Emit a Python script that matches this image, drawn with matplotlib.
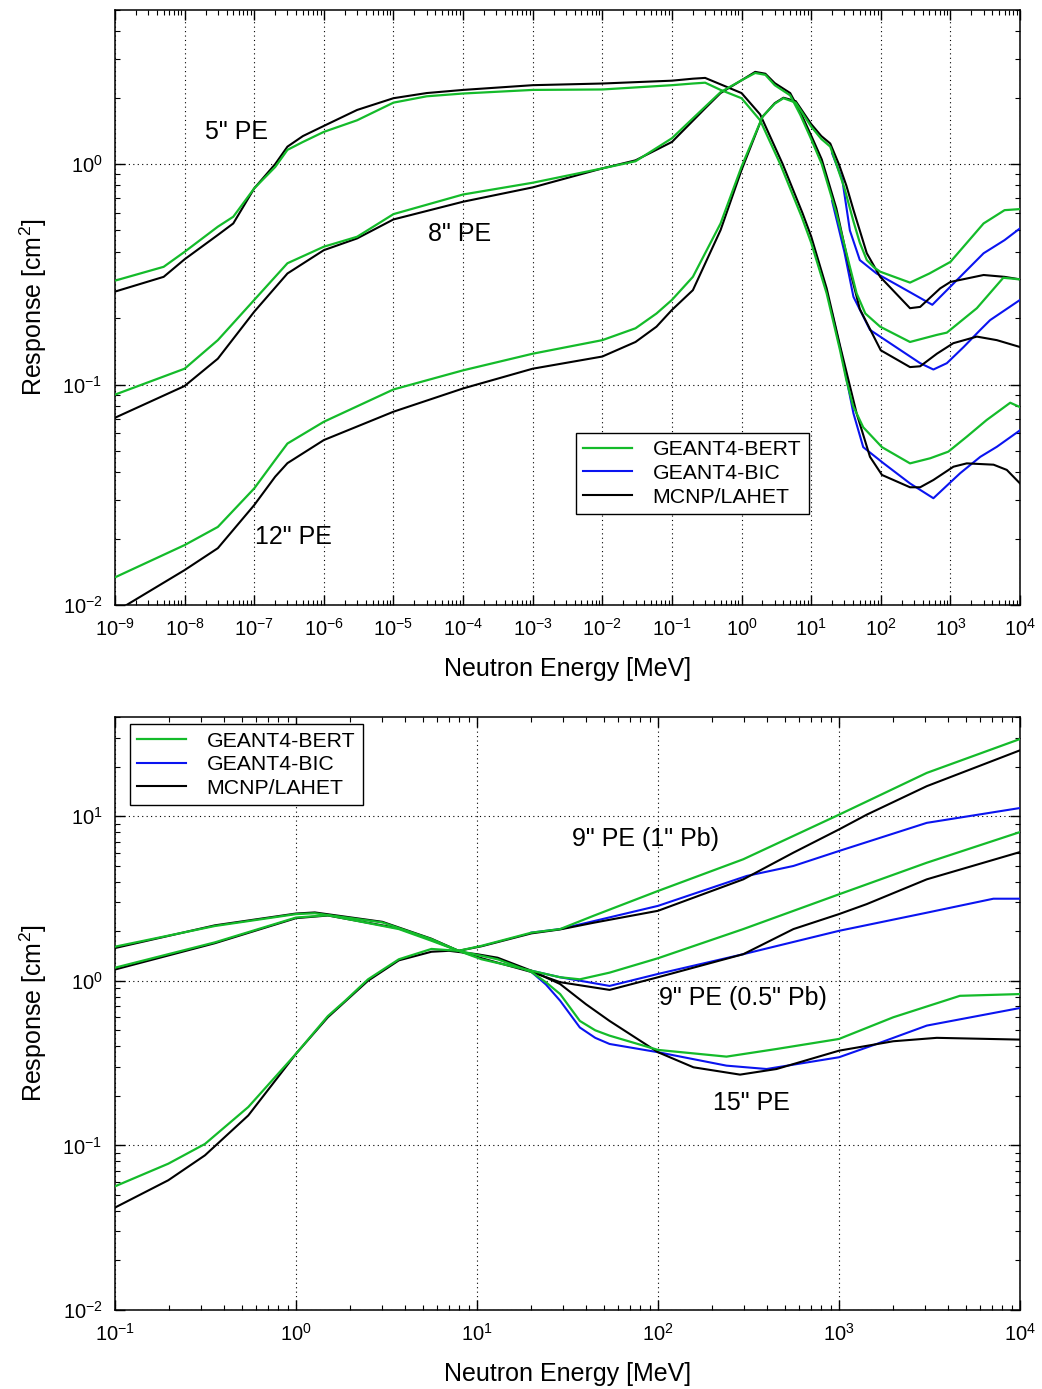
import matplotlib
matplotlib.use("Agg")
import matplotlib.pyplot as plt
from matplotlib.ticker import LogLocator, NullFormatter

plt.rcParams["font.family"] = ["Liberation Sans", "DejaVu Sans"]
plt.rcParams["mathtext.fontset"] = "custom"
plt.rcParams["mathtext.rm"] = "Liberation Sans"
plt.rcParams["mathtext.it"] = "Liberation Sans:italic"
plt.rcParams["mathtext.bf"] = "Liberation Sans:bold"
plt.rcParams["axes.unicode_minus"] = False

GREEN = "#14bb2a"
BLUE = "#0a14f0"
BLACK = "#000000"

# ---------------- top panel: bare PE spheres (energy in MeV) ----------------
# 5" PE
e5_bert = [1e-9, 5e-9, 1e-8, 3e-8, 5e-8, 1e-7, 2e-7, 3e-7, 5e-7, 1e-6, 3e-6, 1e-5, 3e-5, 1e-4, 1e-3,
           1e-2, 0.1, 0.2, 0.3, 0.5, 1.0, 1.85, 3.6, 7.3, 10, 16.7, 26, 32, 40, 56, 104, 263, 513, 933,
           1720, 3310, 7240, 1e4]
r5_bert = [0.296, 0.342, 0.40, 0.52, 0.577, 0.776, 0.97, 1.16, 1.26, 1.40, 1.58, 1.90, 2.03, 2.09, 2.17,
           2.18, 2.28, 2.32, 2.34, 2.17, 1.99, 1.58, 1.0, 0.577, 0.44, 0.259, 0.143, 0.105, 0.08, 0.064,
           0.052, 0.0439, 0.0463, 0.0496, 0.058, 0.069, 0.0827, 0.079]
e5_mcnp = [1e-9, 5e-9, 1e-8, 3e-8, 5e-8, 1e-7, 2e-7, 3e-7, 5e-7, 1e-6, 3e-6, 1e-5, 3e-5, 1e-4, 1e-3,
           1e-2, 0.1, 0.2, 0.3, 0.5, 1.0, 1.85, 3.9, 7.5, 10, 16.7, 26, 45, 70, 104, 263, 368, 570, 1107,
           1720, 4170, 6460, 1e4]
r5_mcnp = [0.264, 0.308, 0.37, 0.477, 0.538, 0.776, 1.0, 1.20, 1.34, 1.49, 1.76, 1.99, 2.10, 2.17, 2.28,
           2.32, 2.39, 2.44, 2.46, 2.30, 2.10, 1.68, 1.0, 0.60, 0.47, 0.273, 0.15, 0.074, 0.047, 0.0389,
           0.0342, 0.0342, 0.0369, 0.0424, 0.0439, 0.0433, 0.041, 0.0356]
e5_bic = [20, 27, 40.5, 56, 110, 263, 570, 1380, 2690, 4650, 1e4]
r5_bic = [0.21, 0.14, 0.074, 0.052, 0.0439, 0.0356, 0.0305, 0.0396, 0.047, 0.0522, 0.062]

# 8" PE
e8_bert = [1e-9, 1e-8, 3e-8, 1e-7, 3e-7, 1e-6, 3e-6, 1e-5, 1e-4, 1e-3, 1e-2, 3e-2, 0.1, 0.3, 0.5, 1.0,
           1.57, 2.2, 3.0, 5.0, 7.0, 10.2, 14.2, 23, 36, 45, 60, 98, 263, 640, 890, 2400, 5750, 1e4]
r8_bert = [0.090, 0.118, 0.159, 0.242, 0.355, 0.422, 0.468, 0.593, 0.728, 0.823, 0.956, 1.03, 1.31, 1.82,
           2.12, 2.40, 2.59, 2.54, 2.28, 2.05, 1.67, 1.28, 1.0, 0.60, 0.342, 0.259, 0.21, 0.183, 0.156,
           0.168, 0.172, 0.222, 0.305, 0.300]
e8_mcnp = [1e-9, 1e-8, 3e-8, 1e-7, 3e-7, 1e-6, 3e-6, 1e-5, 1e-4, 1e-3, 1e-2, 3e-2, 0.1, 0.3, 0.5, 1.0,
           1.57, 2.2, 3.0, 5.0, 7.0, 10.2, 14.2, 23, 36, 50, 100, 263, 368, 640, 1100, 2400, 4650, 1e4]
r8_mcnp = [0.0707, 0.0985, 0.131, 0.214, 0.319, 0.407, 0.46, 0.561, 0.675, 0.784, 0.956, 1.04, 1.26,
           1.79, 2.10, 2.40, 2.62, 2.57, 2.33, 2.10, 1.72, 1.33, 1.05, 0.63, 0.33, 0.22, 0.143, 0.12,
           0.121, 0.138, 0.154, 0.165, 0.159, 0.148]
e8_bic = [20, 30, 40.5, 70, 136, 368, 570, 890, 1550, 2690, 3720, 1e4]
r8_bic = [0.68, 0.40, 0.25, 0.177, 0.154, 0.125, 0.117, 0.125, 0.148, 0.177, 0.196, 0.242]

# 12" PE
e12_bert = [1e-9, 1e-8, 3e-8, 1e-7, 2e-7, 3e-7, 1e-6, 1e-5, 1e-4, 1e-3, 1e-2, 3e-2, 6e-2, 0.1, 0.2,
            0.5, 1.0, 2.0, 3.0, 4.0, 6.0, 10, 14, 18.8, 23, 30, 40.5, 50, 63, 80, 98, 263, 500, 1000,
            3000, 6000, 1e4]
r12_bert = [0.01335, 0.0187, 0.0226, 0.0338, 0.0455, 0.054, 0.0678, 0.095, 0.116, 0.138, 0.159, 0.18,
            0.21, 0.242, 0.308, 0.538, 0.973, 1.64, 1.88, 1.99, 1.90, 1.48, 1.30, 1.20, 1.0, 0.78, 0.55,
            0.44, 0.367, 0.34, 0.325, 0.29, 0.319, 0.36, 0.538, 0.618, 0.625]
e12_mcnp = [1e-9, 1e-8, 3e-8, 1e-7, 2e-7, 3e-7, 1e-6, 1e-5, 1e-4, 1e-3, 1e-2, 3e-2, 6e-2, 0.1, 0.2,
            0.5, 1.0, 2.0, 3.0, 4.0, 6.0, 10, 14, 18.8, 25, 32, 40.5, 63, 98, 263, 368, 713, 1000, 3000,
            6000, 1e4]
r12_mcnp = [0.0093, 0.0144, 0.0181, 0.0284, 0.0382, 0.044, 0.056, 0.0753, 0.096, 0.118, 0.134, 0.156,
            0.183, 0.218, 0.268, 0.502, 0.94, 1.64, 1.89, 2.00, 1.93, 1.52, 1.34, 1.24, 1.0, 0.80, 0.62,
            0.394, 0.308, 0.222, 0.225, 0.273, 0.292, 0.314, 0.308, 0.30]
e12_bic = [20, 28, 36, 50, 87, 190, 550, 1000, 3000, 6000, 1e4]
r12_bic = [1.12, 0.85, 0.50, 0.367, 0.319, 0.278, 0.23, 0.278, 0.394, 0.452, 0.511]

# ---------------- bottom panel: lead-loaded spheres ----------------
# 9" PE (1" Pb)
epb1_bert = [0.1, 0.356, 1.0, 1.27, 3.0, 5.6, 7.9, 10.6, 20, 28.8, 44, 100, 296, 1000, 3054, 1e4]
rpb1_bert = [1.61, 2.15, 2.54, 2.57, 2.26, 1.79, 1.52, 1.63, 1.96, 2.06, 2.48, 3.51, 5.47, 10.2, 18.3, 29.4]
epb1_mcnp = [0.1, 0.356, 1.0, 1.27, 3.0, 5.6, 7.9, 10.6, 20, 28.8, 44, 100, 296, 560, 1000, 1422, 3054, 1e4]
rpb1_mcnp = [1.58, 2.17, 2.56, 2.60, 2.28, 1.80, 1.52, 1.62, 1.94, 2.05, 2.25, 2.66, 4.13, 6.0, 8.3, 10.2,
             15.2, 25.1]
epb1_bic = [20, 28.8, 44, 100, 309, 560, 1000, 3054, 1e4]
rpb1_bic = [1.96, 2.06, 2.3, 2.85, 4.33, 4.98, 6.14, 9.1, 11.2]

# 9" PE (0.5" Pb)
epb05_bert = [0.1, 0.356, 1.0, 1.5, 3.7, 5.6, 7.9, 10.6, 20, 28.8, 37, 54, 100, 296, 1000, 3054, 1e4]
rpb05_bert = [1.20, 1.71, 2.42, 2.50, 2.06, 1.75, 1.52, 1.35, 1.15, 1.05, 1.02, 1.12, 1.37, 2.06, 3.35,
              5.21, 8.0]
epb05_mcnp = [0.1, 0.356, 1.0, 1.5, 3.7, 5.6, 7.9, 10.6, 20, 28.8, 54, 100, 296, 560, 1000, 1422, 3054, 1e4]
rpb05_mcnp = [1.17, 1.69, 2.40, 2.49, 2.08, 1.77, 1.52, 1.37, 1.13, 0.98, 0.88, 1.05, 1.45, 2.06, 2.54,
              2.92, 4.13, 6.05]
epb05_bic = [20, 28.8, 54, 100, 296, 1000, 3054, 7130, 1e4]
rpb05_bic = [1.15, 1.05, 0.93, 1.10, 1.45, 2.01, 2.59, 3.15, 3.15]

# 15" PE
e15_bert = [0.1, 0.197, 0.314, 0.545, 1.0, 1.5, 1.87, 2.5, 3.7, 5.6, 7.9, 13, 20, 24, 28.8, 37, 45, 54,
            100, 239, 452, 1000, 1995, 4660, 1e4]
r15_bert = [0.0564, 0.0774, 0.102, 0.171, 0.36, 0.61, 0.756, 1.02, 1.35, 1.56, 1.52, 1.35, 1.13, 0.98,
            0.83, 0.57, 0.50, 0.464, 0.38, 0.346, 0.385, 0.443, 0.60, 0.81, 0.83]
e15_mcnp = [0.1, 0.197, 0.314, 0.545, 1.0, 1.5, 2.5, 3.7, 5.6, 7.0, 10, 13, 20, 28.8, 40, 54, 100, 157,
            284, 452, 1000, 1995, 3470, 1e4]
r15_mcnp = [0.0419, 0.0614, 0.087, 0.152, 0.36, 0.60, 1.0, 1.33, 1.50, 1.52, 1.45, 1.38, 1.15, 0.955,
            0.72, 0.57, 0.368, 0.298, 0.269, 0.291, 0.376, 0.429, 0.45, 0.439]
e15_bic = [20, 24, 28.8, 37, 45, 54, 100, 239, 398, 1000, 1614, 3054, 1e4]
r15_bic = [1.13, 0.95, 0.756, 0.52, 0.45, 0.413, 0.368, 0.305, 0.291, 0.343, 0.413, 0.534, 0.683]

top_sets = [(e5_bert, r5_bert, e5_bic, r5_bic, e5_mcnp, r5_mcnp),
            (e8_bert, r8_bert, e8_bic, r8_bic, e8_mcnp, r8_mcnp),
            (e12_bert, r12_bert, e12_bic, r12_bic, e12_mcnp, r12_mcnp)]
bottom_sets = [(epb1_bert, rpb1_bert, epb1_bic, rpb1_bic, epb1_mcnp, rpb1_mcnp),
               (epb05_bert, rpb05_bert, epb05_bic, rpb05_bic, epb05_mcnp, rpb05_mcnp),
               (e15_bert, r15_bert, e15_bic, r15_bic, e15_mcnp, r15_mcnp)]

fig = plt.figure(figsize=(10.42, 13.89), dpi=100)
ax1 = fig.add_axes([115 / 1042, 1 - 605 / 1389, 905 / 1042, 595 / 1389])
ax2 = fig.add_axes([115 / 1042, 1 - 1310 / 1389, 905 / 1042, 593 / 1389])


def draw(ax, sets):
    for eb, rb, ei, ri, em, rm in sets:
        ax.plot(ei, ri, color=BLUE, lw=1.5, zorder=3, solid_joinstyle="round")
        ax.plot(em, rm, color=BLACK, lw=1.5, zorder=4, solid_joinstyle="round")
        ax.plot(eb, rb, color=GREEN, lw=1.6, zorder=5, solid_joinstyle="round")
    # legend proxies
    ax.plot([], [], color=GREEN, lw=1.6, label="GEANT4-BERT")
    ax.plot([], [], color=BLUE, lw=1.5, label="GEANT4-BIC")
    ax.plot([], [], color=BLACK, lw=1.5, label="MCNP/LAHET")


def style(ax, xlo, xhi, ylo, yhi):
    ax.set_xscale("log")
    ax.set_yscale("log")
    ax.set_xlim(xlo, xhi)
    ax.set_ylim(ylo, yhi)
    ax.xaxis.set_major_locator(LogLocator(base=10, numticks=30))
    ax.xaxis.set_minor_locator(LogLocator(base=10, subs=range(2, 10), numticks=30))
    ax.yaxis.set_major_locator(LogLocator(base=10, numticks=30))
    ax.yaxis.set_minor_locator(LogLocator(base=10, subs=range(2, 10), numticks=30))
    ax.xaxis.set_minor_formatter(NullFormatter())
    ax.yaxis.set_minor_formatter(NullFormatter())
    ax.tick_params(which="both", direction="in", top=True, right=True, labelsize=14.5)
    ax.tick_params(which="major", length=7, width=1, pad=9)
    ax.tick_params(which="minor", length=3.5, width=0.8)
    ax.grid(True, which="major", color="black", linestyle=(0, (1, 3)), linewidth=0.8)
    for s in ax.spines.values():
        s.set_linewidth(1.1)
    ax.set_xlabel("Neutron Energy [MeV]", fontsize=18, labelpad=13)
    ax.set_ylabel("Response [cm$^2$]", fontsize=18, labelpad=10)


legend_kw = dict(fontsize=15.3, frameon=True, fancybox=False, edgecolor="black", framealpha=1,
                 handlelength=2.3, labelspacing=0.22, borderpad=0.35, handletextpad=0.95,
                 borderaxespad=0)

draw(ax1, top_sets)
style(ax1, 1e-9, 1e4, 1e-2, 5)
ax1.text(5.5e-8, 1.40, '5" PE', fontsize=18, ha="center", va="center")
ax1.text(9.0e-5, 0.482, '8" PE', fontsize=18, ha="center", va="center")
ax1.text(3.6e-7, 0.0203, '12" PE', fontsize=18, ha="center", va="center")
leg1 = ax1.legend(loc="lower left", bbox_to_anchor=(0.5094, 0.153), **legend_kw)
leg1.get_frame().set_linewidth(1.0)

draw(ax2, bottom_sets)
style(ax2, 1e-1, 1e4, 1e-2, 40)
ax2.text(85, 7.26, '9" PE (1" Pb)', fontsize=18, ha="center", va="center")
ax2.text(295, 0.789, '9" PE (0.5" Pb)', fontsize=18, ha="center", va="center")
ax2.text(330, 0.182, '15" PE', fontsize=18, ha="center", va="center")
leg2 = ax2.legend(loc="upper left", bbox_to_anchor=(0.0166, 0.988), **legend_kw)
leg2.get_frame().set_linewidth(1.0)

fig.savefig("out.png", dpi=100)
